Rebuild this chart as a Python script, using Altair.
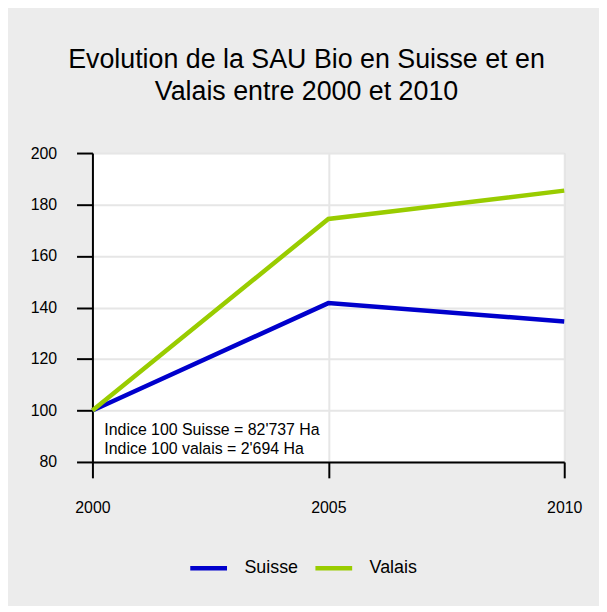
import altair as alt
import pandas as pd

years = [2000, 2005, 2010]
suisse = [100, 141.7, 134.6]
valais = [100, 174.4, 185.4]
series_names = ["Suisse", "Valais"]
series_colors = ["#0000cc", "#99cc00"]
y_ticks = [80, 100, 120, 140, 160, 180, 200]
note_lines = ["Indice 100 Suisse = 82'737 Ha", "Indice 100 valais = 2'694 Ha"]
title_lines = ["Evolution de la SAU Bio en Suisse et en", "Valais entre 2000 et 2010"]

rows = []
for name, vals in zip(series_names, [suisse, valais]):
    for yr, v in zip(years, vals):
        rows.append({"annee": yr, "indice": v, "serie": name})
df = pd.DataFrame(rows)

FONT = "Liberation Sans"

x_enc = alt.X(
    "annee:Q",
    scale=alt.Scale(domain=[2000, 2010], nice=False, zero=False),
    axis=alt.Axis(
        values=years, format="d", title=None, tickSize=16, tickWidth=2,
        tickColor="black", domainColor="black", domainWidth=2,
        labelFontSize=16, labelColor="black", labelFont=FONT,
        labelPadding=22, labelFlush=False, gridColor="#e6e6e6", gridWidth=2,
    ),
)
y_enc = alt.Y(
    "indice:Q",
    scale=alt.Scale(domain=[80, 200], nice=False, zero=False),
    axis=alt.Axis(
        values=y_ticks, title=None, tickSize=16, tickWidth=2,
        tickColor="black", domainColor="black", domainWidth=2,
        labelFontSize=16, labelColor="black", labelFont=FONT,
        labelPadding=20, gridColor="#e6e6e6", gridWidth=2,
    ),
)

lines = alt.Chart(df).mark_line(strokeWidth=4.5, strokeCap="butt").encode(
    x=x_enc,
    y=y_enc,
    color=alt.Color(
        "serie:N",
        scale=alt.Scale(domain=series_names, range=series_colors),
        legend=alt.Legend(
            title=None, orient="none", direction="horizontal",
            legendX=96, legendY=397, symbolType="stroke",
            symbolSize=1369, symbolStrokeWidth=4.5, labelFontSize=18,
            labelFont=FONT, labelColor="black", labelOffset=15,
            columnPadding=7, padding=0,
        ),
    ),
)

note = alt.Chart(pd.DataFrame({"t": [0]})).mark_text(
    text=note_lines, align="left", baseline="alphabetic", fontSize=16,
    lineHeight=18.5, font=FONT, color="black", dx=12, dy=-27,
).encode(
    x=alt.datum(2000),
    y=alt.datum(80),
)

chart = alt.layer(lines, note).properties(
    width=475,
    height=311,
    title=alt.TitleParams(
        text=title_lines, fontSize=27, lineHeight=33, font=FONT,
        fontWeight="normal", color="black", anchor="middle", dx=-22, offset=39,
    ),
    background="#ececec",
    autosize=alt.AutoSizeParams(type="none"),
    padding={"left": 85, "top": 144, "right": 35, "bottom": 143},
).configure_view(stroke="#c4c4c4", strokeWidth=1, fill="white")

chart.save("out.html", embed_options={"renderer": "svg", "actions": False})
